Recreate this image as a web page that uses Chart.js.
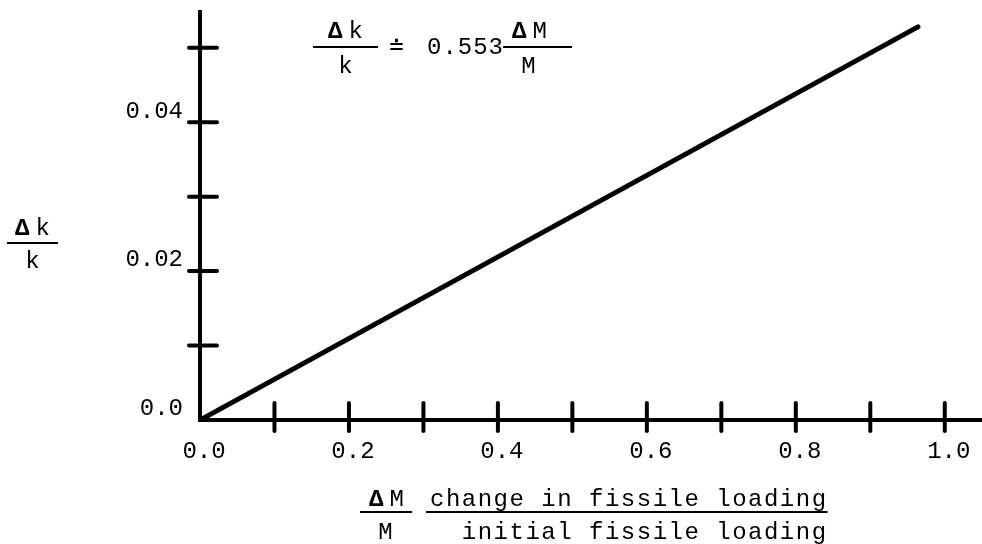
<!DOCTYPE html>
<html>
<head>
<meta charset="utf-8">
<script src="https://cdn.jsdelivr.net/npm/chart.js@4.4.0/dist/chart.umd.min.js"></script>
<style>
  html, body { margin: 0; padding: 0; background: #fff; }
  #wrap { width: 982px; height: 544px; position: relative; }
</style>
</head>
<body>
<div id="wrap"><canvas id="chart"></canvas></div>
<script>
/* =========================
   DATA
========================= */

// dk/k = 0.553 dM/M, line
const lineX = [0.0, 0.964];
const lineY = [0.0, 0.0528];

const xTickValues = [0.0, 0.1, 0.2, 0.3, 0.4, 0.5, 0.6, 0.7, 0.8, 0.9, 1.0];
const xTickLabels = ['0.0', '', '0.2', '', '0.4', '', '0.6', '', '0.8', '', '1.0'];

const yTickValues = [0.0, 0.01, 0.02, 0.03, 0.04, 0.05];
const yTickLabels = ['0.0', '', '0.02', '', '0.04', ''];

const xMax = 1.05;
const yMax = 0.0548;

const FONT = '"Liberation Mono", "DejaVu Sans Mono", monospace';

/* =========================
   PLUGINS
========================= */

// tick marks crossing the axes
const crossTicks = {
    id: 'crossTicks',
    afterDatasetsDraw(chart) {
        const ctx = chart.ctx;
        const xs = chart.scales.x;
        const ys = chart.scales.y;
        const x0 = xs.getPixelForValue(0);
        const y0 = ys.getPixelForValue(0);

        ctx.save();
        ctx.strokeStyle = '#000';
        ctx.lineWidth = 4;
        ctx.lineCap = 'round';

        xTickValues.forEach(function(v){
            if (v === 0) return;
            const px = xs.getPixelForValue(v);
            ctx.beginPath();
            ctx.moveTo(px, y0 - 17);
            ctx.lineTo(px, y0 + 11);
            ctx.stroke();
        });

        yTickValues.forEach(function(v){
            if (v === 0) return;
            const py = ys.getPixelForValue(v);
            ctx.beginPath();
            ctx.moveTo(x0 - 11, py);
            ctx.lineTo(x0 + 17, py);
            ctx.stroke();
        });

        ctx.restore();
    }
};

// draws "Δ X" with bold delta, centred on cx
function drawDelta(ctx, letter, cx, cy, size){
    ctx.font = 'bold ' + size + 'px ' + FONT;
    const wd = ctx.measureText('Δ').width;
    ctx.font = size + 'px ' + FONT;
    const wl = ctx.measureText(letter).width;
    const gap = 5;
    const total = wd + gap + wl;
    const x = cx - total / 2;
    ctx.textAlign = 'left';
    ctx.font = 'bold ' + size + 'px ' + FONT;
    ctx.fillText('Δ', x, cy);
    ctx.font = size + 'px ' + FONT;
    ctx.fillText(letter, x + wd + gap, cy);
}

function drawBar(ctx, x1, x2, y){
    ctx.beginPath();
    ctx.moveTo(x1, y);
    ctx.lineTo(x2, y);
    ctx.stroke();
}

const labelsPlugin = {
    id: 'labelsPlugin',
    afterDraw(chart) {
        const ctx = chart.ctx;
        const F = '24px ' + FONT;
        ctx.save();
        ctx.fillStyle = '#000';
        ctx.strokeStyle = '#000';
        ctx.lineWidth = 2;
        ctx.textBaseline = 'middle';
        ctx.letterSpacing = '1px';

        // equation at top
        drawDelta(ctx, 'k', 346, 32, 24);
        drawBar(ctx, 313, 378, 47);
        ctx.font = F;
        ctx.textAlign = 'center';
        ctx.fillText('k', 346, 67);
        ctx.fillText('≐', 397, 48);
        ctx.textAlign = 'left';
        ctx.fillText('0.553', 427, 48);
        drawDelta(ctx, 'M', 530, 32, 24);
        drawBar(ctx, 503, 572, 47);
        ctx.font = F;
        ctx.textAlign = 'center';
        ctx.fillText('M', 529, 67);

        // y axis title
        drawDelta(ctx, 'k', 33, 229, 24);
        drawBar(ctx, 7, 58, 243);
        ctx.font = F;
        ctx.textAlign = 'center';
        ctx.fillText('k', 33, 262);

        // x axis title
        drawDelta(ctx, 'M', 387, 500, 24);
        drawBar(ctx, 360, 412, 512);
        ctx.font = F;
        ctx.textAlign = 'center';
        ctx.fillText('M', 386, 533);

        ctx.letterSpacing = '1.5px';
        ctx.textAlign = 'left';
        const left = 430;
        const pitch = ctx.measureText('a').width;
        ctx.fillText('change in fissile loading', left, 500);
        ctx.fillText('initial fissile loading', left + 2 * pitch, 533);
        drawBar(ctx, left - 4, left + 25 * pitch, 512);

        ctx.restore();
    }
};

/* =========================
   CHART
========================= */

const canvas = document.getElementById('chart');

new Chart(canvas, {
    type: 'line',

    data: {
        datasets: [{
            data: lineX.map(function(x, i){ return { x: x, y: lineY[i] }; }),
            borderColor: '#000',
            borderWidth: 5,
            borderCapStyle: 'round',
            pointRadius: 0,
            fill: false,
            tension: 0
        }]
    },

    options: {
        responsive: true,
        maintainAspectRatio: false,
        animation: false,
        events: [],

        layout: {
            padding: { left: 110, right: 0, top: 12, bottom: 54 }
        },

        plugins: {
            legend: { display: false },
            tooltip: { enabled: false }
        },

        scales: {
            x: {
                type: 'linear',
                min: 0,
                max: xMax,
                afterBuildTicks: function(scale){
                    scale.ticks = xTickValues.map(function(v){ return { value: v }; });
                },
                afterFit: function(scale){
                    scale.height = 70;
                    scale.paddingLeft = 0;
                    scale.paddingRight = 0;
                },
                grid: { display: false, drawTicks: false },
                border: { display: true, color: '#000', width: 4 },
                ticks: {
                    autoSkip: false,
                    maxRotation: 0,
                    padding: 17,
                    labelOffset: 4,
                    color: '#000',
                    font: { family: FONT, size: 24 },
                    callback: function(value, index){
                        return xTickLabels[index];
                    }
                }
            },

            y: {
                type: 'linear',
                min: 0,
                max: yMax,
                afterBuildTicks: function(scale){
                    scale.ticks = yTickValues.map(function(v){ return { value: v }; });
                },
                afterFit: function(scale){
                    scale.width = 90;
                    scale.paddingTop = 0;
                    scale.paddingBottom = 0;
                },
                grid: { display: false, drawTicks: false },
                border: { display: true, color: '#000', width: 4 },
                ticks: {
                    autoSkip: false,
                    padding: 17,
                    labelOffset: -11,
                    color: '#000',
                    font: { family: FONT, size: 24 },
                    callback: function(value, index){
                        return yTickLabels[index];
                    }
                }
            }
        }
    },

    plugins: [crossTicks, labelsPlugin]
});
</script>
</body>
</html>
